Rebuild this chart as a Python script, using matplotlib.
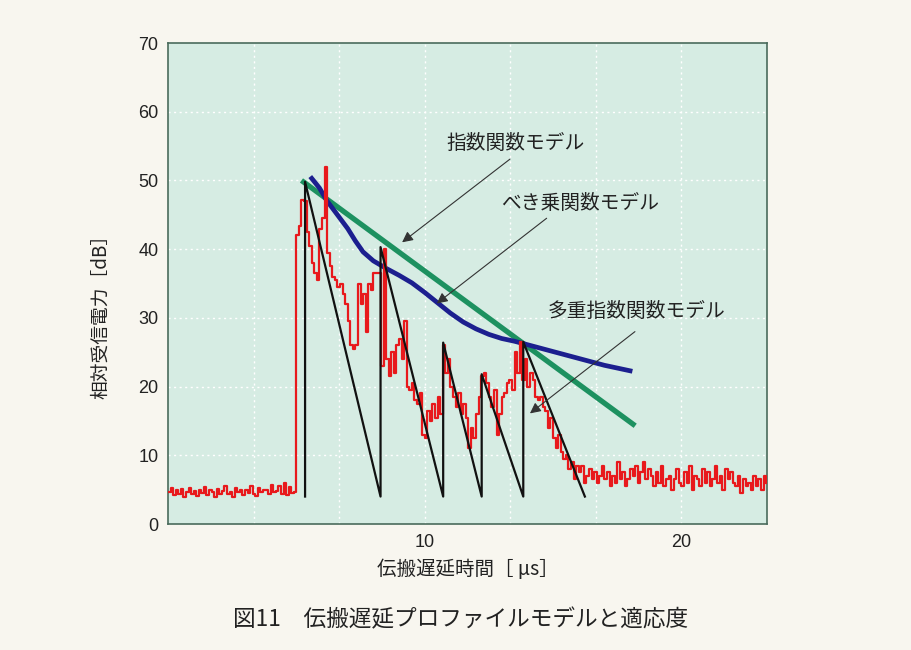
import numpy as np
import matplotlib
matplotlib.use("Agg")
import matplotlib.pyplot as plt

plt.rcParams['font.family'] = ['Noto Sans CJK JP', 'DejaVu Sans']

# ---- data ----
red_t0 = 0.0
red_dt = 0.1
red_power = [
    4.6, 5.3, 4.2, 4.9, 4.4, 5.1, 4.0, 4.7, 5.2, 4.3,
    4.8, 4.1, 5.0, 4.5, 5.4, 4.2, 4.9, 4.6, 3.9, 5.1,
    4.4, 4.8, 5.5, 4.3, 4.7, 4.0, 5.2, 4.6, 4.9, 4.2,
    5.0, 4.5, 5.6, 4.4, 4.1, 5.3, 4.7, 4.9, 5.0, 4.3,
    5.7, 4.6, 4.8, 5.5, 4.4, 5.9, 4.2, 5.4, 4.5, 4.7,
    42.0, 43.3, 47.2, 47.0, 42.5, 40.5, 38.0, 36.5, 35.5, 43.0,
    44.5, 52.0, 39.5, 37.5, 36.0, 35.5, 34.5, 35.0, 33.5, 32.0,
    29.5, 26.0, 25.5, 26.0, 35.0, 32.0, 33.5, 28.0, 35.0, 34.0,
    36.5, 36.5, 36.5, 23.0, 40.0, 24.0, 21.5, 25.0, 22.0, 26.0,
    27.0, 24.0, 29.5, 20.0, 19.5, 20.5, 18.0, 17.5, 19.0, 13.0,
    12.5, 16.5, 15.0, 17.5, 15.5, 18.5, 16.0, 26.0, 22.0, 24.0,
    20.0, 18.5, 17.0, 19.0, 16.0, 17.5, 15.5, 11.0, 14.0, 12.5,
    16.0, 18.5, 21.5, 22.0, 20.5, 18.5, 17.0, 19.5, 13.0, 16.0,
    18.5, 19.0, 20.5, 21.0, 19.5, 25.0, 22.0, 26.5, 21.0, 24.0,
    20.0, 22.0, 21.0, 18.5, 18.0, 18.5, 17.0, 16.5, 14.0, 15.5,
    12.5, 11.0, 13.0, 10.5, 9.5, 10.0, 8.0, 9.0, 6.5, 8.5,
    7.5, 8.5, 6.0, 7.0, 8.0, 6.5, 7.5, 6.0, 7.0, 8.5,
    6.5, 7.5, 5.5, 7.0, 6.0, 9.0, 6.5, 7.5, 5.5, 6.5,
    8.0, 7.0, 8.5, 6.0, 7.5, 9.0, 6.5, 8.0, 7.0, 5.5,
    7.5, 6.0, 8.5, 5.5, 6.5, 7.0, 5.0, 6.5, 8.0, 6.0,
    5.5, 7.5, 6.0, 8.5, 5.0, 7.0, 6.5, 5.5, 8.0, 6.0,
    7.5, 5.5, 6.5, 8.5, 6.0, 7.0, 5.0, 8.0, 6.5, 7.5,
    6.0, 5.5, 7.0, 4.5, 6.5, 5.5, 6.0, 5.0, 7.0, 5.5,
    6.5, 5.0, 7.0, 6.0,
]
red_time = red_t0 + red_dt * np.arange(len(red_power))

exp_time = [5.2, 18.2]
exp_power = [50.0, 14.3]

pow_time = [5.6, 5.9, 6.2, 6.6, 7.0, 7.3, 7.6, 8.0, 8.5, 9.0, 9.5, 10.0, 10.5,
            11.0, 11.5, 12.0, 12.5, 13.0, 13.5, 14.0, 14.5, 15.0, 15.5, 16.0,
            16.5, 17.0, 17.5, 18.0]
pow_power = [50.3, 48.9, 47.0, 45.0, 43.0, 41.2, 39.6, 38.3, 37.2, 36.2, 35.1, 33.7, 32.2,
             30.7, 29.4, 28.4, 27.6, 27.0, 26.6, 26.1, 25.6, 25.1, 24.6, 24.1,
             23.6, 23.1, 22.7, 22.3]

multi_time = [5.34, 5.34, 8.28, 8.28, 10.72, 10.72, 12.22, 12.22, 13.84, 13.84, 16.24]
multi_power = [4.0, 49.8, 4.0, 40.3, 4.0, 26.4, 4.0, 21.8, 4.0, 26.5, 4.0]

labels = ["指数関数モデル", "べき乗関数モデル", "多重指数関数モデル"]
label_pos = [(13.52, 55.4), (16.05, 46.7), (18.27, 30.9)]
arrow_tail = [(13.32, 53.1), (14.75, 44.5), (18.19, 28.0)]
arrow_head = [(9.12, 41.0), (10.47, 32.1), (14.1, 16.1)]

x_ticks = [10, 20]
y_ticks = [0, 10, 20, 30, 40, 50, 60, 70]

# ---- figure ----
fig = plt.figure(figsize=(9.11, 6.5), dpi=100)
fig.patch.set_facecolor('#f8f6ef')
ax = fig.add_axes([0.1844, 0.1938, 0.6575, 0.7400])
ax.set_facecolor('#d6ece3')

ax.set_xlim(0, 70 / 3)
ax.set_ylim(0, 70)

# grid
for gx in np.arange(1, 7) * (10 / 3):
    ax.axvline(gx, color='white', lw=1.0, ls=(0, (1.5, 2.5)), zorder=1)
for gy in y_ticks[1:-1]:
    ax.axhline(gy, color='white', lw=1.0, ls=(0, (1.5, 2.5)), zorder=1)

ax.plot(exp_time, exp_power, color='#1d9160', lw=3.8, zorder=3, solid_capstyle='butt')
ax.plot(pow_time, pow_power, color='#1c1f8f', lw=3.4, zorder=3, solid_joinstyle='round')
ax.step(red_time, red_power, where='post', color='#e8191c', lw=1.6, zorder=4)
ax.plot(multi_time, multi_power, color='#111111', lw=1.6, zorder=5)

for lab, (tx, ty), tail, head in zip(labels, label_pos, arrow_tail, arrow_head):
    ax.text(tx, ty, lab, ha='center', va='center', fontsize=14.2, color='#222222', zorder=6)
    ax.annotate('', xy=head, xytext=tail,
                arrowprops=dict(arrowstyle='-|>', color='#333333', lw=0.8,
                                mutation_scale=16, shrinkA=0, shrinkB=0), zorder=6)

ax.set_xticks(x_ticks)
ax.set_yticks(y_ticks)
ax.tick_params(length=0, pad=7, labelsize=13, colors='#222222')
for lab in ax.get_xticklabels() + ax.get_yticklabels():
    lab.set_fontfamily('Liberation Sans')

for sp in ax.spines.values():
    sp.set_color('#4a6b5c')
    sp.set_linewidth(1.2)

ax.set_xlabel('伝搬遅延時間［ μs］', fontsize=14, labelpad=6, color='#222222')
ax.set_ylabel('相対受信電力［dB］', fontsize=13.5, color='#222222')
ax.yaxis.set_label_coords(-0.094, 0.44)

fig.text(0.506, 0.046, '図11　伝搬遅延プロファイルモデルと適応度', ha='center', va='center',
         fontsize=16.3, color='#222222')

fig.savefig('out.png', dpi=100, facecolor=fig.get_facecolor())
